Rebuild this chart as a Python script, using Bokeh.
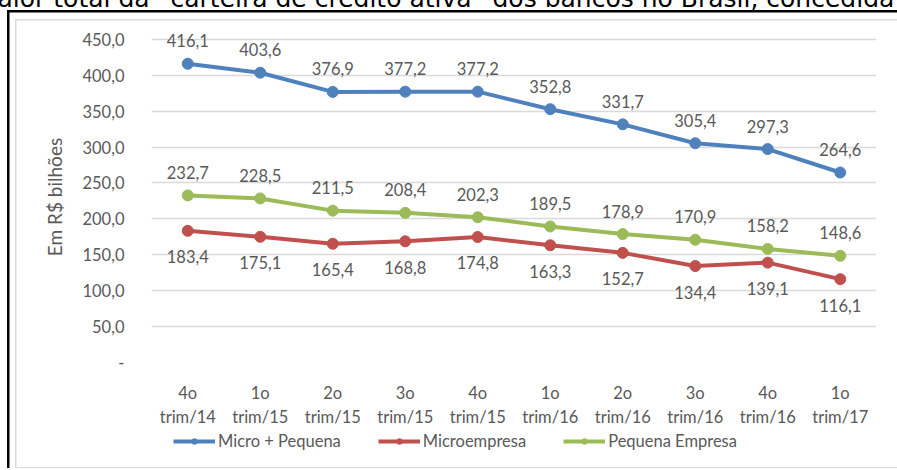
from bokeh.plotting import figure
from bokeh.layouts import column
from bokeh.models import (Range1d, FactorRange, FixedTicker, Legend, LegendItem,
                          ColumnDataSource, Label)
from bokeh.core.properties import value
from bokeh.embed import file_html
from bokeh.resources import INLINE

# Quarterly credit portfolio (R$ billions)
quarters = ["4o\ntrim/14", "1o\ntrim/15", "2o\ntrim/15", "3o\ntrim/15", "4o\ntrim/15",
            "1o\ntrim/16", "2o\ntrim/16", "3o\ntrim/16", "4o\ntrim/16", "1o\ntrim/17"]
micro_pequena = [416.1, 403.6, 376.9, 377.2, 377.2, 352.8, 331.7, 305.4, 297.3, 264.6]
microempresa = [183.4, 175.1, 165.4, 168.8, 174.8, 163.3, 152.7, 134.4, 139.1, 116.1]
pequena_empresa = [232.7, 228.5, 211.5, 208.4, 202.3, 189.5, 178.9, 170.9, 158.2, 148.6]
y_ticks = [0, 50, 100, 150, 200, 250, 300, 350, 400, 450]

FONT = "Lato"
GRAY = "#595959"
FS = "16.5px"

def fmt(v):
    return f"{v:.1f}".replace(".", ",")

p = figure(width=897, height=429, x_range=FactorRange(*quarters),
           y_range=Range1d(0, 461.0), output_backend="svg", toolbar_location=None,
           min_border_left=151, min_border_right=21, min_border_top=31,
           min_border_bottom=63, margin=0)
p.outline_line_color = None
p.background_fill_alpha = 0
p.border_fill_alpha = 0

# axes
p.yaxis.ticker = FixedTicker(ticks=y_ticks)
p.yaxis.major_label_overrides = {t: ("-" if t == 0 else fmt(t)) for t in y_ticks}
p.yaxis.axis_line_color = None
p.yaxis.major_tick_line_color = None
p.yaxis.minor_tick_line_color = None
p.yaxis.major_label_text_font = FONT
p.yaxis.major_label_text_font_size = FS
p.yaxis.major_label_text_color = GRAY
p.yaxis.major_label_standoff = 21
p.yaxis.axis_label = "Em R$ bilhões"
p.yaxis.axis_label_text_font = FONT
p.yaxis.axis_label_text_font_size = "19px"
p.yaxis.axis_label_text_font_style = "normal"
p.yaxis.axis_label_text_color = GRAY
p.yaxis.axis_label_standoff = 13

p.xaxis.axis_line_color = None
p.xaxis.major_tick_line_color = None
p.xaxis.minor_tick_line_color = None
p.xaxis.major_label_text_font = FONT
p.xaxis.major_label_text_font_size = FS
p.xaxis.major_label_text_color = GRAY
p.xaxis.major_label_standoff = 14

p.xgrid.grid_line_color = None
p.ygrid.grid_line_color = "#d9d9d9"
p.ygrid.grid_line_width = 1.5
p.ygrid.ticker = FixedTicker(ticks=y_ticks)

series = [
    ("Micro + Pequena", micro_pequena, "#4f81bd", -23),
    ("Microempresa", microempresa, "#c0504d", 26),
    ("Pequena Empresa", pequena_empresa, "#9bbb59", -23),
]

# legend strip under the chart
leg = figure(width=897, height=39, output_backend="svg", toolbar_location=None,
             x_axis_type=None, y_axis_type=None, min_border=0, margin=0,
             x_range=Range1d(0, 1), y_range=Range1d(0, 1))
leg.outline_line_color = None
leg.grid.visible = False
leg.background_fill_alpha = 0
leg.border_fill_alpha = 0

items = []
for name, vals, color, dy in series:
    src = ColumnDataSource(dict(x=quarters, y=vals, lbl=[fmt(v) for v in vals]))
    p.line("x", "y", source=src, line_color=color, line_width=4)
    p.scatter("x", "y", source=src, size=11, fill_color=color, line_color=color)
    p.text("x", "y", text="lbl", source=src, y_offset=dy, text_align="center",
           text_baseline="middle", text_font_size=FS, text_color=GRAY,
           text_font=value(FONT))
    # same line + marker styling for the legend swatches (kept off-view)
    l1 = leg.line([-5, -4], [-5, -5], line_color=color, line_width=4)
    l2 = leg.scatter([-5], [-5], size=11, fill_color=color, line_color=color)
    items.append(LegendItem(label=name, renderers=[l1, l2]))

legend = Legend(items=items, orientation="horizontal", location=(22, 17),
                label_text_font=FONT, label_text_font_size=FS,
                label_text_color=GRAY, border_line_color=None,
                background_fill_alpha=0, glyph_width=42, glyph_height=14,
                spacing=37, label_standoff=3, padding=0, margin=0)
leg.add_layout(legend, "center")

# running text of the page above the chart box (only its lower part shows)
p.add_layout(Label(x=-3, y=-2, x_units="canvas", y_units="canvas",
                   text='alor total da \u201ccarteira de crédito ativa\u201d dos bancos no Brasil, concedida',
                   text_font="DejaVu Sans", text_font_size="25px", text_color="black",
                   text_baseline="alphabetic"), "above")

page = column(p, leg, spacing=0, margin=0)
# chart box behind the transparent canvases: black outer edge, gray inner edge
page.styles = {
    "vertical-align": "top",
    "background-color": "white",
    "background-image": ", ".join(["linear-gradient(#000,#000)"] * 2
                                  + ["linear-gradient(#d9d9d9,#d9d9d9)"] * 3),
    "background-size": "2.5px 460px, 890px 2.5px, 1.5px 451px, 882px 1.5px, 882px 1.5px",
    "background-position": "7px 10px, 7px 10px, 15px 19px, 15px 19px, 15px 466.5px",
    "background-repeat": "no-repeat",
}

open("out.html", "w").write(file_html(page, INLINE))
